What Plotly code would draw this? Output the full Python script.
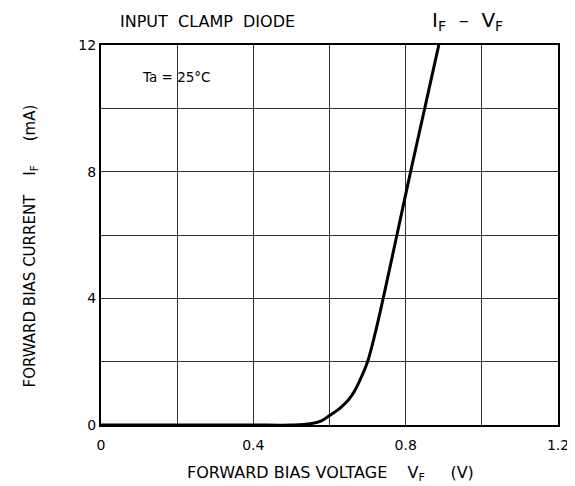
import plotly.graph_objects as go

# Data
voltage_v = [0.0, 0.1, 0.2, 0.3, 0.4, 0.5, 0.55, 0.58, 0.6, 0.615, 0.63, 0.65, 0.665, 0.68, 0.70, 0.72, 0.741, 0.777, 0.813, 0.85, 0.887]
current_ma = [0.0, 0.0, 0.0, 0.0, 0.0, 0.0, 0.04, 0.14, 0.30, 0.42, 0.56, 0.80, 1.06, 1.42, 2.0, 2.9, 4.0, 6.0, 8.0, 10.0, 12.0]

x_tickvals = [0, 0.2, 0.4, 0.6, 0.8, 1.0, 1.2]
x_ticktext = ["0", "", "0.4", "", "0.8", "", "1.2"]
y_tickvals = [0, 2, 4, 6, 8, 10, 12]
y_ticktext = ["0", "", "4", "", "8", "", "12"]

FONT = "DejaVu Sans"
SP = "\u00a0"

fig = go.Figure()
fig.add_trace(go.Scatter(
    x=voltage_v, y=current_ma, mode="lines",
    line=dict(color="black", width=3, shape="spline", smoothing=1.0),
    showlegend=False, hoverinfo="skip",
))

axis_common = dict(
    showgrid=True, gridcolor="#333333", gridwidth=1,
    showline=True, linecolor="black", linewidth=2, mirror=True,
    zeroline=False, tickfont=dict(family=FONT, size=14, color="black"),
)

fig.update_layout(
    width=575, height=486,
    margin=dict(l=93, r=25, t=37, b=69),
    paper_bgcolor="white", plot_bgcolor="white",
    font=dict(family=FONT, color="black"),
    xaxis=dict(range=[0, 1.2], tickvals=x_tickvals, ticktext=x_ticktext,
               ticks="outside", ticklen=6, tickcolor="rgba(0,0,0,0)", **axis_common),
    yaxis=dict(range=[0, 12], tickvals=y_tickvals, ticktext=y_ticktext,
               ticks="", **axis_common),
    annotations=[
        dict(text=f"INPUT{SP*2}CLAMP{SP*2}DIODE", xref="paper", yref="paper", x=(110 - 93) / 457, y=1,
             yshift=24, xanchor="left", yanchor="middle", showarrow=False,
             font=dict(family=FONT, size=16, color="black")),
        dict(text=f"I<sub>F</sub>{SP*2}–{SP*2}V<sub>F</sub>", xref="paper", yref="paper", x=(422 - 93) / 457, y=1,
             yshift=24, xanchor="left", yanchor="middle", showarrow=False,
             font=dict(family=FONT, size=20, color="black")),
        dict(text="Ta = 25°C", xref="paper", yref="paper", x=(132 - 93) / 457, y=1,
             yshift=-32, xanchor="left", yanchor="middle", showarrow=False,
             font=dict(family=FONT, size=13.5, color="black")),
        dict(text=f"FORWARD BIAS VOLTAGE{SP*4}V<sub>F</sub>{SP*5}(V)", xref="paper", yref="paper",
             x=(322 - 93) / 457, y=0, yshift=-48, xanchor="center", yanchor="middle",
             showarrow=False, font=dict(family=FONT, size=16, color="black")),
        dict(text=f"FORWARD BIAS CURRENT{SP*4}I<sub>F</sub>{SP*5}(mA)", xref="paper", yref="paper",
             x=0, xshift=-71, y=0.47, xanchor="center", yanchor="middle",
             textangle=-90, showarrow=False, font=dict(family=FONT, size=15, color="black")),
    ],
)

fig.write_html("out.html")
